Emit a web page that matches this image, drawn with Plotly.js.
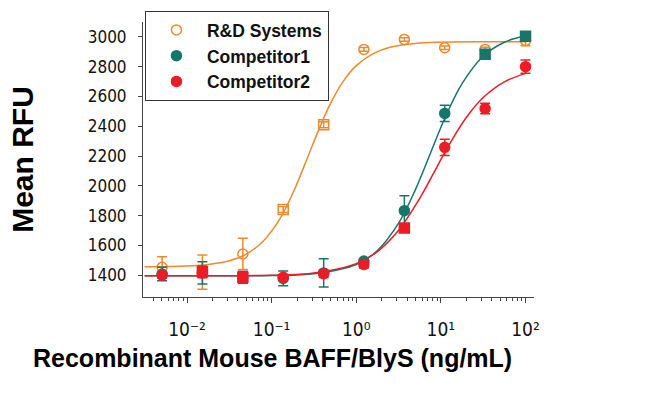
<!DOCTYPE html>
<html>
<head>
<meta charset="utf-8">
<script src="https://cdn.plot.ly/plotly-3.0.1.min.js"></script>
<style>
  html, body { margin: 0; padding: 0; background: #ffffff; }
  #chart { width: 650px; height: 399px; }
</style>
</head>
<body>
<div id="chart"></div>
<script>
// ---- Data ----
var concentration = [0.00508, 0.0152, 0.0457, 0.137, 0.412, 1.23, 3.70, 11.1, 33.3, 100];

var rdMean   = [1453, 1420, 1542, 1841, 2410, 2916, 2983, 2927, 2916, 2975];
var rdErr    = [70, 115, 105, 20, 20, 12, 12, 12, 15, 35];

var comp1Mean = [1407, 1415, 1385, 1378, 1415, 1494, 1833, 2486, 2883, 3005];
var comp1Err  = [45, 75, 40, 50, 95, 15, 100, 55, 20, 15];

var comp2Mean = [1400, 1422, 1385, 1385, 1409, 1472, 1716, 2258, 2519, 2800];
var comp2Err  = [20, 40, 40, 15, 25, 25, 20, 55, 35, 45];

// fitted curves
var rdCurveX = [0.00316, 0.01, 0.0178, 0.0316, 0.0501, 0.0794, 0.126, 0.178, 0.251, 0.355, 0.501, 0.708, 1, 1.585, 2.512, 5.012, 10, 31.6, 100];
var rdCurveY = [1456, 1461, 1471, 1496, 1541, 1627, 1781, 1950, 2154, 2367, 2558, 2705, 2807, 2888, 2930, 2956, 2964, 2967, 2968];

var comp1CurveX = [0.00316, 0.01, 0.0316, 0.1, 0.316, 1, 1.778, 3.162, 5.012, 7.5, 11.22, 17.78, 31.62, 56.23, 100];
var comp1CurveY = [1395, 1395, 1396, 1397, 1409, 1471, 1565, 1749, 1976, 2217, 2459, 2686, 2870, 2964, 3007];

var comp2CurveX = [0.00316, 0.01, 0.0316, 0.1, 0.316, 1, 1.778, 3.162, 5.623, 8.511, 12.59, 19.95, 31.62, 56.23, 100];
var comp2CurveY = [1395, 1395, 1396, 1399, 1414, 1477, 1558, 1701, 1916, 2102, 2279, 2459, 2593, 2698, 2755];

var seriesNames = ["R&D Systems", "Competitor1", "Competitor2"];

var xTickVals = [0.01, 0.1, 1, 10, 100];
var xTickText = ["10\u207B\u00B2", "10\u207B\u00B9", "10\u2070", "10\u00B9", "10\u00B2"];

// ---- Styles ----
var cOrange = "#EC8A2E";
var cTeal = "#17766B";
var cRed = "#EC1C27";
var rdSymbols = ["circle-open", "circle-open", "circle-open", "square-open", "square-open", "circle-open", "circle-open", "circle-open", "circle-open", "circle-open"];
var c1Symbols = ["circle", "circle", "circle", "circle", "circle", "circle", "circle", "circle", "square", "square"];
var c2Symbols = ["circle", "square", "square", "circle", "circle", "circle", "square", "circle", "circle", "circle"];

var tickFont = "'Liberation Sans Narrow', 'DejaVu Sans Condensed', 'Roboto Condensed', Roboto, sans-serif";
var boldFont = "'Liberation Sans', Arial, sans-serif";

function curve(x, y, color) {
  return { x: x, y: y, type: "scatter", mode: "lines", line: { color: color, width: 1.5, shape: "spline", smoothing: 1 }, showlegend: false, hoverinfo: "skip" };
}
function points(name, y, err, color, symbols) {
  return {
    x: concentration, y: y, name: name, type: "scatter", mode: "markers",
    marker: { color: color, size: 10, symbol: symbols, line: { color: color, width: 1.5 } },
    error_y: { type: "data", array: err, visible: true, color: color, thickness: 1.5, width: 5 }
  };
}

var traces = [
  curve(rdCurveX, rdCurveY, cOrange),
  curve(comp1CurveX, comp1CurveY, cTeal),
  curve(comp2CurveX, comp2CurveY, cRed),
  points(seriesNames[0], rdMean, rdErr, cOrange, rdSymbols),
  points(seriesNames[1], comp1Mean, comp1Err, cTeal, c1Symbols),
  points(seriesNames[2], comp2Mean, comp2Err, cRed, c2Symbols)
];

var layout = {
  width: 650, height: 399,
  margin: { l: 143, r: 116, t: 21, b: 102 },
  paper_bgcolor: "#ffffff", plot_bgcolor: "#ffffff",
  showlegend: true,
  legend: {
    x: 0.005, y: 1.036, xanchor: "left", yanchor: "top",
    bgcolor: "#ffffff", bordercolor: "#333333", borderwidth: 1,
    font: { family: boldFont, size: 17.5, color: "#111111", weight: "bold" },
    itemwidth: 51
  },
  xaxis: {
    type: "log", range: [-2.52, 2.1],
    tickmode: "array", tickvals: xTickVals, ticktext: xTickText,
    ticks: "outside", ticklen: 5, tickcolor: "#444444", tickwidth: 1,
    minor: { ticks: "outside", ticklen: 3, tickcolor: "#444444", dtick: "D1", showgrid: false },
    showline: true, linecolor: "#444444", linewidth: 1,
    showgrid: false, zeroline: false,
    ticklabelstandoff: 10,
    tickfont: { family: tickFont, size: 19, color: "#111111" }
  },
  yaxis: {
    range: [1253, 3100],
    tick0: 1400, dtick: 200,
    ticks: "outside", ticklen: 4, tickcolor: "#444444", tickwidth: 1,
    showline: true, linecolor: "#444444", linewidth: 1,
    showgrid: false, zeroline: false,
    ticklabelstandoff: 8,
    tickfont: { family: tickFont, size: 17, color: "#111111" },
    automargin: true,
    title: { text: "Mean RFU", standoff: 45, font: { family: boldFont, size: 30, color: "#000000", weight: "bold" } }
  },
  annotations: [{
    text: "Recombinant Mouse BAFF/BlyS (ng/mL)",
    xref: "paper", yref: "paper", x: 0.332, y: -0.221,
    xanchor: "center", yanchor: "middle", showarrow: false,
    font: { family: boldFont, size: 25, color: "#000000", weight: "bold" }
  }]
};

Plotly.newPlot("chart", traces, layout, { displayModeBar: false, staticPlot: true });
</script>
</body>
</html>
